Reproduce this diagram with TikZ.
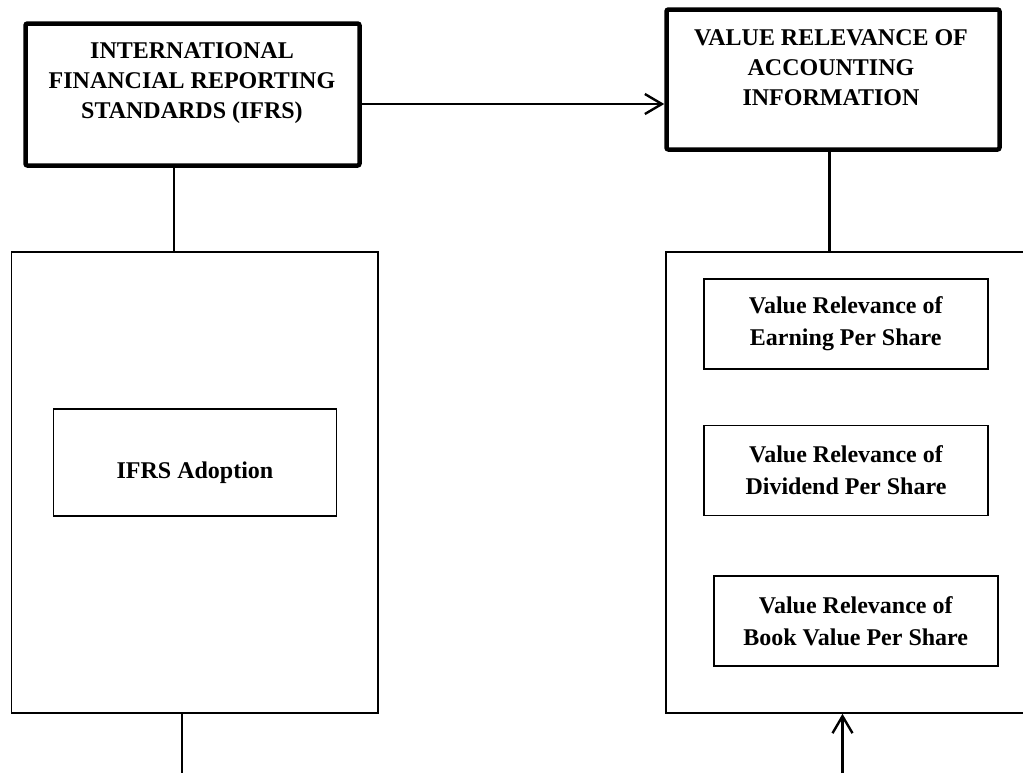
\documentclass[tikz,border=0pt]{standalone}
\usepackage{fontspec}
\setmainfont{Liberation Serif}
\usetikzlibrary{arrows.meta}

\begin{document}
\begin{tikzpicture}[x=0.5pt,y=-0.5pt,>={Straight Barb[length=8.5pt,width=10pt]},
	mainbox/.style={draw,line width=2.25pt,rounded corners=1pt,inner sep=0pt},
	groupbox/.style={draw,line width=0.8pt,inner sep=0pt},
	itembox/.style={draw,line width=0.8pt,minimum width=142pt,minimum height=45pt,align=center,font=\fontsize{12}{16}\selectfont\bfseries},
	lbl/.style={align=center,font=\fontsize{12}{15}\selectfont\bfseries},
	link/.style={line width=1.2pt}]
			\clip (0,0) rectangle (1023,773);
			%\draw [help lines] (0,0) grid (1023,773);
			\node[mainbox,minimum width=167pt,minimum height=71pt] (ifrs) at (192.5,94.5) {};
			\node[lbl] (ifrstext) at (192,83) {INTERNATIONAL\\FINANCIAL REPORTING\\STANDARDS (IFRS)};
			\node[mainbox,minimum width=166.5pt,minimum height=70pt] (vai) at (833,79.5) {};
			\node[lbl] (vaitext) at (831,68) {VALUE RELEVANCE OF\\ACCOUNTING\\INFORMATION};
			
			\node[groupbox,minimum width=183.25pt,minimum height=230.5pt] (leftgrp) at (194.75,482.5) {};
			\node[groupbox,minimum width=141.5pt,minimum height=53.5pt] (adopt) at (195,462.5) {};
			\node[lbl] (adopttext) at (195,473) {IFRS Adoption};
			
			\node[groupbox,minimum width=189.5pt,minimum height=230.5pt] (rightgrp) at (855.5,482.5) {};
			\node[itembox] (eps) at (845.75,324) {Value Relevance of\\Earning Per Share};
			\node[itembox] (dps) at (846,470.5) {Value Relevance of\\Dividend Per Share};
			\node[itembox] (bvps) at (855.75,621) {Value Relevance of\\Book Value Per Share};
			
			\coordinate (arrowy) at (0,104);
			\coordinate (ifrsdrop) at ([xshift=-9.25pt]ifrs.south);
			\coordinate (vaidrop) at ([xshift=-1.75pt]vai.south);
			\coordinate (leftout) at (182,773);
			\coordinate (rightin) at (842.5,773);
			
			\draw [link,->] (ifrs.east |- arrowy) -- (vai.west |- arrowy);
			\draw [link] (ifrsdrop) -- (ifrsdrop |- leftgrp.north);
			\draw [link] (vaidrop) -- (vaidrop |- rightgrp.north);
			\draw [link] (leftout |- leftgrp.south) -- (leftout);
			\draw [link,->] (rightin) -- (rightin |- rightgrp.south);
	\end{tikzpicture}
\end{document}
